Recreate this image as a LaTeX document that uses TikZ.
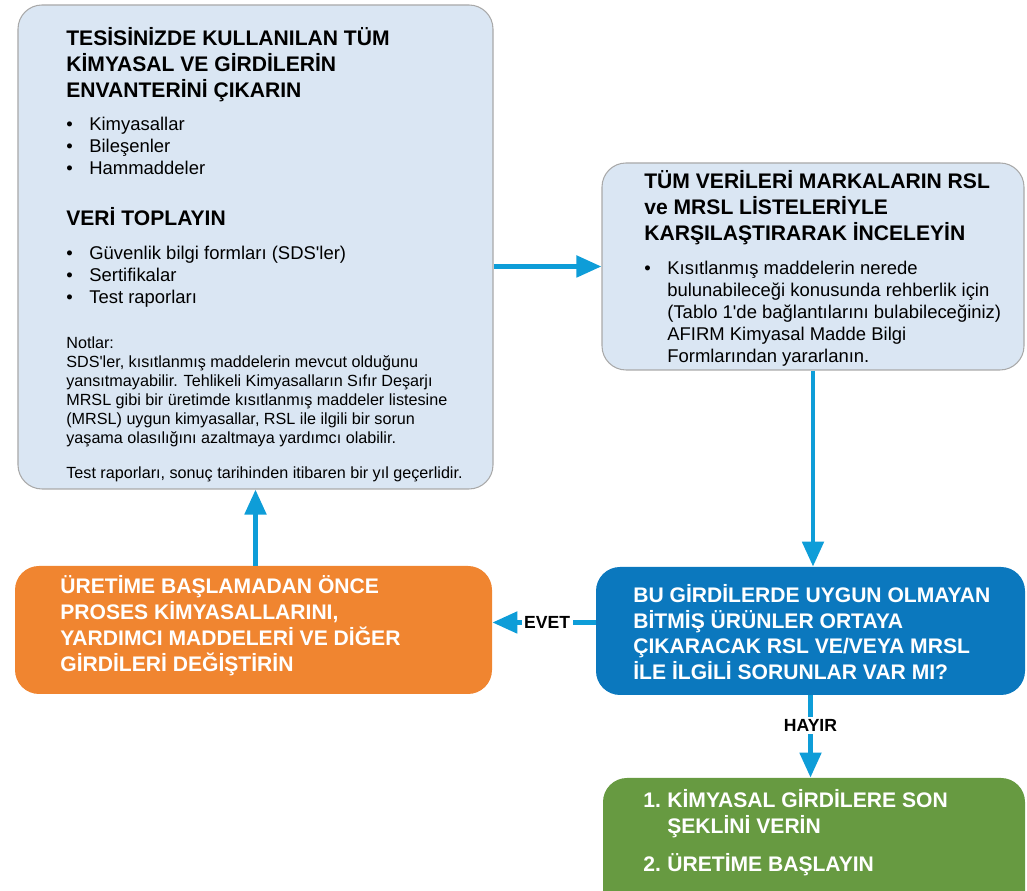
\documentclass[tikz,border=0pt]{standalone}
\usepackage{fontspec}
\setmainfont{Liberation Sans}
\usetikzlibrary{positioning,arrows.meta}
\definecolor{panelfill}{HTML}{DAE6F3}
\definecolor{panelline}{HTML}{A9A9A9}
\definecolor{askblue}{HTML}{0B78BE}
\definecolor{fixorange}{HTML}{F08530}
\definecolor{goodgreen}{HTML}{679A41}
\definecolor{flowblue}{HTML}{0E9DD8}
\newcommand{\textlines}[1]{\begin{tabular}[t]{@{}l@{}}#1\end{tabular}}
\newcommand{\bul}{\makebox[0.46cm][l]{•}}
\newcommand{\nobul}{\hspace*{0.46cm}}
\newcommand{\sq}{\textquotesingle}

\begin{document}
\begin{tikzpicture}[
    box/.style={rectangle, rounded corners=0.48cm, inner sep=0pt},
    panel/.style={box, draw=panelline, fill=panelfill, line width=0.6pt},
    askbox/.style={box, fill=askblue},
    fixbox/.style={box, fill=fixorange},
    donebox/.style={box, fill=goodgreen},
    headtext/.style={anchor=base west, inner sep=0pt,
                     font=\fontsize{12}{14.2}\selectfont\bfseries},
    bodytext/.style={anchor=base west, inner sep=0pt,
                     font=\fontsize{10.5}{12.5}\selectfont},
    notetext/.style={anchor=base west, inner sep=0pt,
                     font=\fontsize{9.2}{10.8}\selectfont},
    whitetext/.style={headtext, text=white},
    flow/.style={-{Triangle[length=0.5cm,width=0.42cm]}, flowblue, line width=2.8pt},
    answer/.style={fill=white, text=black, inner sep=1.5pt,
                   font=\fontsize{10}{12}\selectfont\bfseries}
]
\useasboundingbox (0,0) rectangle (20.54,17.82);

% boxes
\node[panel,   minimum width=9.50cm, minimum height=9.68cm] (inv)    at ( 5.11,12.88) {};
\node[panel,   minimum width=8.44cm, minimum height=4.14cm] (review) at (16.26,12.49) {};
\node[askbox,  minimum width=8.58cm, minimum height=2.56cm] (ask)    at (16.21, 5.20) {};
\node[fixbox,  minimum width=9.54cm, minimum height=2.56cm] (change) at ( 5.07, 5.22) {};
\node[donebox, minimum width=8.44cm, minimum height=2.86cm] (final)  at (16.28, 0.83) {};

% texts
\node[headtext] (invhead) at (1.32,16.90) {\textlines{TESİSİNİZDE KULLANILAN TÜM\\
  KİMYASAL VE GİRDİLERİN\\ ENVANTERİNİ ÇIKARIN}};
\node[bodytext] (invlist) at (1.32,15.20) {\textlines{\bul Kimyasallar\\
  \bul Bileşenler\\ \bul Hammaddeler}};
\node[headtext] (datahead) at (1.32,13.30) {VERİ TOPLAYIN};
\node[bodytext] (datalist) at (1.32,12.62) {\textlines{\bul Güvenlik bilgi formları (SDS\sq ler)\\
  \bul Sertifikalar\\ \bul Test raporları}};
\node[notetext] (notes) at (1.32,10.84) {\textlines{Notlar:\\
  SDS\sq ler, kısıtlanmış maddelerin mevcut olduğunu\\
  yansıtmayabilir. Tehlikeli Kimyasalların Sıfır Deşarjı\\
  MRSL gibi bir üretimde kısıtlanmış maddeler listesine\\
  (MRSL) uygun kimyasallar, RSL ile ilgili bir sorun\\
  yaşama olasılığını azaltmaya yardımcı olabilir.\\[9pt]
  Test raporları, sonuç tarihinden itibaren bir yıl geçerlidir.}};

\node[headtext] (reviewhead) at (12.88,14.04) {\textlines{TÜM VERİLERİ MARKALARIN RSL\\
  ve MRSL LİSTELERİYLE\\ KARŞILAŞTIRARAK İNCELEYİN}};
\node[bodytext] (reviewlist) at (12.88,12.32) {\textlines{\bul Kısıtlanmış maddelerin nerede\\
  \nobul bulunabileceği konusunda rehberlik için\\
  \nobul (Tablo 1\sq de bağlantılarını bulabileceğiniz)\\
  \nobul AFIRM Kimyasal Madde Bilgi\\
  \nobul Formlarından yararlanın.}};

\node[whitetext] (asktext) at (12.66,5.76) {\textlines{BU GİRDİLERDE UYGUN OLMAYAN\\
  BİTMİŞ ÜRÜNLER ORTAYA\\ ÇIKARACAK RSL VE/VEYA MRSL\\ İLE İLGİLİ SORUNLAR VAR MI?}};
\node[whitetext] (changetext) at (1.20,5.94) {\textlines{ÜRETİME BAŞLAMADAN ÖNCE\\
  PROSES KİMYASALLARINI,\\ YARDIMCI MADDELERİ VE DİĞER\\ GİRDİLERİ DEĞİŞTİRİN}};
\node[whitetext] (finaltext) at (12.86,1.66) {\textlines{\makebox[0.48cm][l]{1.}KİMYASAL GİRDİLERE SON\\
  \hspace*{0.48cm}ŞEKLİNİ VERİN\\[6.8pt]
  \makebox[0.48cm][l]{2.}ÜRETİME BAŞLAYIN}};

% arrows
\draw[flow] (inv.east |- review.west) -- (review.west);
\draw[flow] (review.south) -- (review.south |- ask.north);
\draw[flow] ([yshift=0.17cm]ask.west) -- ([yshift=0.17cm]ask.west -| change.east)
  node[answer, pos=0.47] (yes) {EVET};
\draw[flow] (change.north -| inv.south) -- (inv.south);
\draw[flow] (ask.south) -- (ask.south |- final.north)
  node[answer, pos=0.37] (no) {HAYIR};

\end{tikzpicture}
\end{document}
